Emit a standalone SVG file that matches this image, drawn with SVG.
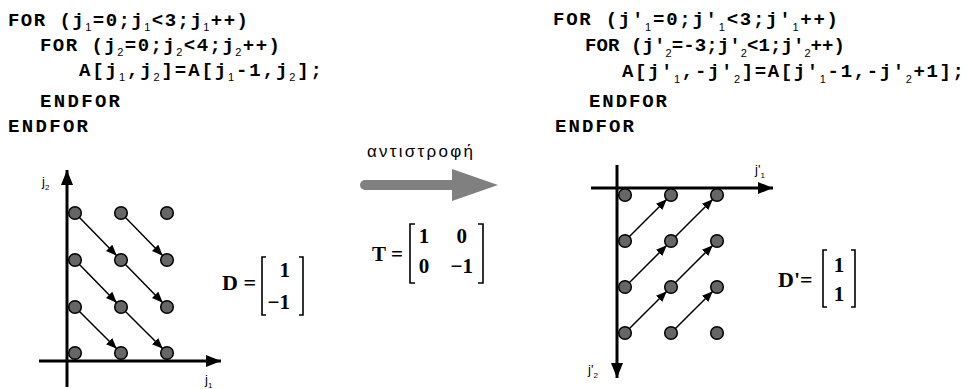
<svg xmlns="http://www.w3.org/2000/svg" width="968" height="389" viewBox="0 0 968 389">
<style>
.code{font-family:"Liberation Mono","Courier New",monospace;font-weight:bold;font-size:19px;fill:#000}
.sub{font-family:"Liberation Sans",Arial,sans-serif;font-weight:normal;font-size:11px}
.lbl{font-family:"Liberation Sans",Arial,sans-serif;font-size:13px;fill:#000}
.lsub{font-family:"Liberation Sans",Arial,sans-serif;font-size:8px}
.math{font-family:"Liberation Serif","Times New Roman",serif;font-weight:bold;font-size:21px;fill:#000}
.greek{font-family:"Liberation Sans",Arial,sans-serif;font-size:17px;fill:#000}
.dot{fill:#666;stroke:#000;stroke-width:1.5}
.axis{stroke:#000;stroke-width:3;fill:none}
.dep{stroke:#000;stroke-width:1.5;fill:none}
.brk{stroke:#000;stroke-width:1.6;fill:none}
</style>
<defs>
<marker id="ah" markerUnits="userSpaceOnUse" markerWidth="11" markerHeight="9" refX="11" refY="4.5" orient="auto"><path d="M0,0 L11,4.5 L0,9 z" fill="#000"/></marker>
<marker id="axh" markerUnits="userSpaceOnUse" markerWidth="15" markerHeight="12" refX="15" refY="6" orient="auto"><path d="M0,0 L15,6 L0,12 z" fill="#000"/></marker>
</defs>

<g id="code-left">
<text class="code" x="8" y="26" textLength="240" lengthAdjust="spacing">FOR (j<tspan class="sub" dy="5">1</tspan><tspan dy="-5">=0;j</tspan><tspan class="sub" dy="5">1</tspan><tspan dy="-5">&lt;3;j</tspan><tspan class="sub" dy="5">1</tspan><tspan dy="-5">++)</tspan></text>
<text class="code" x="40" y="51" textLength="240" lengthAdjust="spacing">FOR (j<tspan class="sub" dy="5">2</tspan><tspan dy="-5">=0;j</tspan><tspan class="sub" dy="5">2</tspan><tspan dy="-5">&lt;4;j</tspan><tspan class="sub" dy="5">2</tspan><tspan dy="-5">++)</tspan></text>
<text class="code" x="79" y="76" textLength="243" lengthAdjust="spacing">A[j<tspan class="sub" dy="5">1</tspan><tspan dy="-5">,j</tspan><tspan class="sub" dy="5">2</tspan><tspan dy="-5">]=A[j</tspan><tspan class="sub" dy="5">1</tspan><tspan dy="-5">-1,j</tspan><tspan class="sub" dy="5">2</tspan><tspan dy="-5">];</tspan></text>
<text class="code" x="40" y="107" textLength="80" lengthAdjust="spacing">ENDFOR</text>
<text class="code" x="8" y="132" textLength="80" lengthAdjust="spacing">ENDFOR</text>
</g>

<g id="code-right">
<text class="code" x="553" y="25" textLength="285" lengthAdjust="spacing">FOR (j'<tspan class="sub" dy="6">1</tspan><tspan dy="-6">=0;j'</tspan><tspan class="sub" dy="6">1</tspan><tspan dy="-6">&lt;3;j'</tspan><tspan class="sub" dy="6">1</tspan><tspan dy="-6">++)</tspan></text>
<text class="code" x="585" y="51" textLength="260" lengthAdjust="spacing">FOR (j'<tspan class="sub" dy="6">2</tspan><tspan dy="-6">=-3;j'</tspan><tspan class="sub" dy="6">2</tspan><tspan dy="-6">&lt;1;j'</tspan><tspan class="sub" dy="6">2</tspan><tspan dy="-6">++)</tspan></text>
<text class="code" x="622" y="77" textLength="342" lengthAdjust="spacing">A[j'<tspan class="sub" dy="6">1</tspan><tspan dy="-6">,-j'</tspan><tspan class="sub" dy="6">2</tspan><tspan dy="-6">]=A[j'</tspan><tspan class="sub" dy="6">1</tspan><tspan dy="-6">-1,-j'</tspan><tspan class="sub" dy="6">2</tspan><tspan dy="-6">+1];</tspan></text>
<text class="code" x="589" y="107" textLength="78" lengthAdjust="spacing">ENDFOR</text>
<text class="code" x="555" y="132" textLength="79" lengthAdjust="spacing">ENDFOR</text>
</g>

<g id="transform">
<text class="greek" x="367" y="157" textLength="106" lengthAdjust="spacing">αντιστροφή</text>
<path d="M365,185 H454" stroke="#808080" stroke-width="10" stroke-linecap="round" fill="none"/>
<path d="M452,169 L498,185 L452,201 z" fill="#808080"/>
</g>

<g id="matrix-T">
<text class="math" x="372" y="261">T =</text>
<path class="brk" d="M415,224 H410 V283 H415 M478,224 H483 V283 H478"/>
<text class="math" x="424" y="243" text-anchor="middle">1</text>
<text class="math" x="467" y="243" text-anchor="end">0</text>
<text class="math" x="424" y="273" text-anchor="middle">0</text>
<text class="math" x="473" y="273" text-anchor="end">−1</text>
</g>

<g id="axes-left">
<line class="axis" x1="67" y1="387" x2="67" y2="170" marker-end="url(#axh)"/>
<line class="axis" x1="39" y1="361" x2="221" y2="361" marker-end="url(#axh)"/>
<text class="lbl" x="42" y="186">j<tspan class="lsub" dy="4">2</tspan></text>
<text class="lbl" x="205" y="384">j<tspan class="lsub" dy="4">1</tspan></text>
</g>

<g id="connectors">
<line class="dep" x1="79.2" y1="217.3" x2="116.8" y2="255.7" marker-end="url(#ah)"/>
<line class="dep" x1="125.2" y1="217.3" x2="162.8" y2="255.7" marker-end="url(#ah)"/>
<line class="dep" x1="79.2" y1="264.3" x2="116.8" y2="302.7" marker-end="url(#ah)"/>
<line class="dep" x1="125.2" y1="264.3" x2="162.8" y2="302.7" marker-end="url(#ah)"/>
<line class="dep" x1="79.2" y1="311.3" x2="116.8" y2="348.8" marker-end="url(#ah)"/>
<line class="dep" x1="125.2" y1="311.3" x2="162.8" y2="348.8" marker-end="url(#ah)"/>
<line class="dep" x1="629.2" y1="236.8" x2="666.8" y2="199.2" marker-end="url(#ah)"/>
<line class="dep" x1="675.2" y1="236.8" x2="712.8" y2="199.2" marker-end="url(#ah)"/>
<line class="dep" x1="629.2" y1="282.8" x2="666.8" y2="245.2" marker-end="url(#ah)"/>
<line class="dep" x1="675.2" y1="282.8" x2="712.8" y2="245.2" marker-end="url(#ah)"/>
<line class="dep" x1="629.2" y1="328.8" x2="666.8" y2="291.2" marker-end="url(#ah)"/>
<line class="dep" x1="675.2" y1="328.8" x2="712.8" y2="291.2" marker-end="url(#ah)"/>
</g>

<g id="dots-left">
<circle class="dot" cx="75" cy="213" r="6.3"/><circle class="dot" cx="121" cy="213" r="6.3"/><circle class="dot" cx="167" cy="213" r="6.3"/>
<circle class="dot" cx="75" cy="260" r="6.3"/><circle class="dot" cx="121" cy="260" r="6.3"/><circle class="dot" cx="167" cy="260" r="6.3"/>
<circle class="dot" cx="75" cy="307" r="6.3"/><circle class="dot" cx="121" cy="307" r="6.3"/><circle class="dot" cx="167" cy="307" r="6.3"/>
<circle class="dot" cx="75" cy="353" r="6.3"/><circle class="dot" cx="121" cy="353" r="6.3"/><circle class="dot" cx="167" cy="353" r="6.3"/>
</g>

<g id="matrix-D">
<text class="math" x="222" y="290" style="font-size:22px">D =</text>
<path class="brk" d="M266,257 H262 V315 H266 M299,257 H303 V315 H299"/>
<text class="math" x="290" y="277" text-anchor="end">1</text>
<text class="math" x="290" y="309" text-anchor="end">−1</text>
</g>

<g id="axes-right">
<line class="axis" x1="617" y1="165" x2="617" y2="378" marker-end="url(#axh)"/>
<line class="axis" x1="591" y1="188" x2="773" y2="188" marker-end="url(#axh)"/>
<text class="lbl" x="755" y="174">j'<tspan class="lsub" dy="4">1</tspan></text>
<text class="lbl" x="588" y="374">j'<tspan class="lsub" dy="4">2</tspan></text>
</g>

<g id="dots-right">
<circle class="dot" cx="625" cy="195" r="6.3"/><circle class="dot" cx="671" cy="195" r="6.3"/><circle class="dot" cx="717" cy="195" r="6.3"/>
<circle class="dot" cx="625" cy="241" r="6.3"/><circle class="dot" cx="671" cy="241" r="6.3"/><circle class="dot" cx="717" cy="241" r="6.3"/>
<circle class="dot" cx="625" cy="287" r="6.3"/><circle class="dot" cx="671" cy="287" r="6.3"/><circle class="dot" cx="717" cy="287" r="6.3"/>
<circle class="dot" cx="625" cy="333" r="6.3"/><circle class="dot" cx="671" cy="333" r="6.3"/><circle class="dot" cx="717" cy="333" r="6.3"/>
</g>

<g id="matrix-Dp">
<text class="math" x="778" y="287" style="font-size:22px">D'=</text>
<path class="brk" d="M827,250 H823 V307 H827 M851,250 H855 V307 H851"/>
<text class="math" x="839" y="272" text-anchor="middle">1</text>
<text class="math" x="839" y="301" text-anchor="middle">1</text>
</g>
</svg>
